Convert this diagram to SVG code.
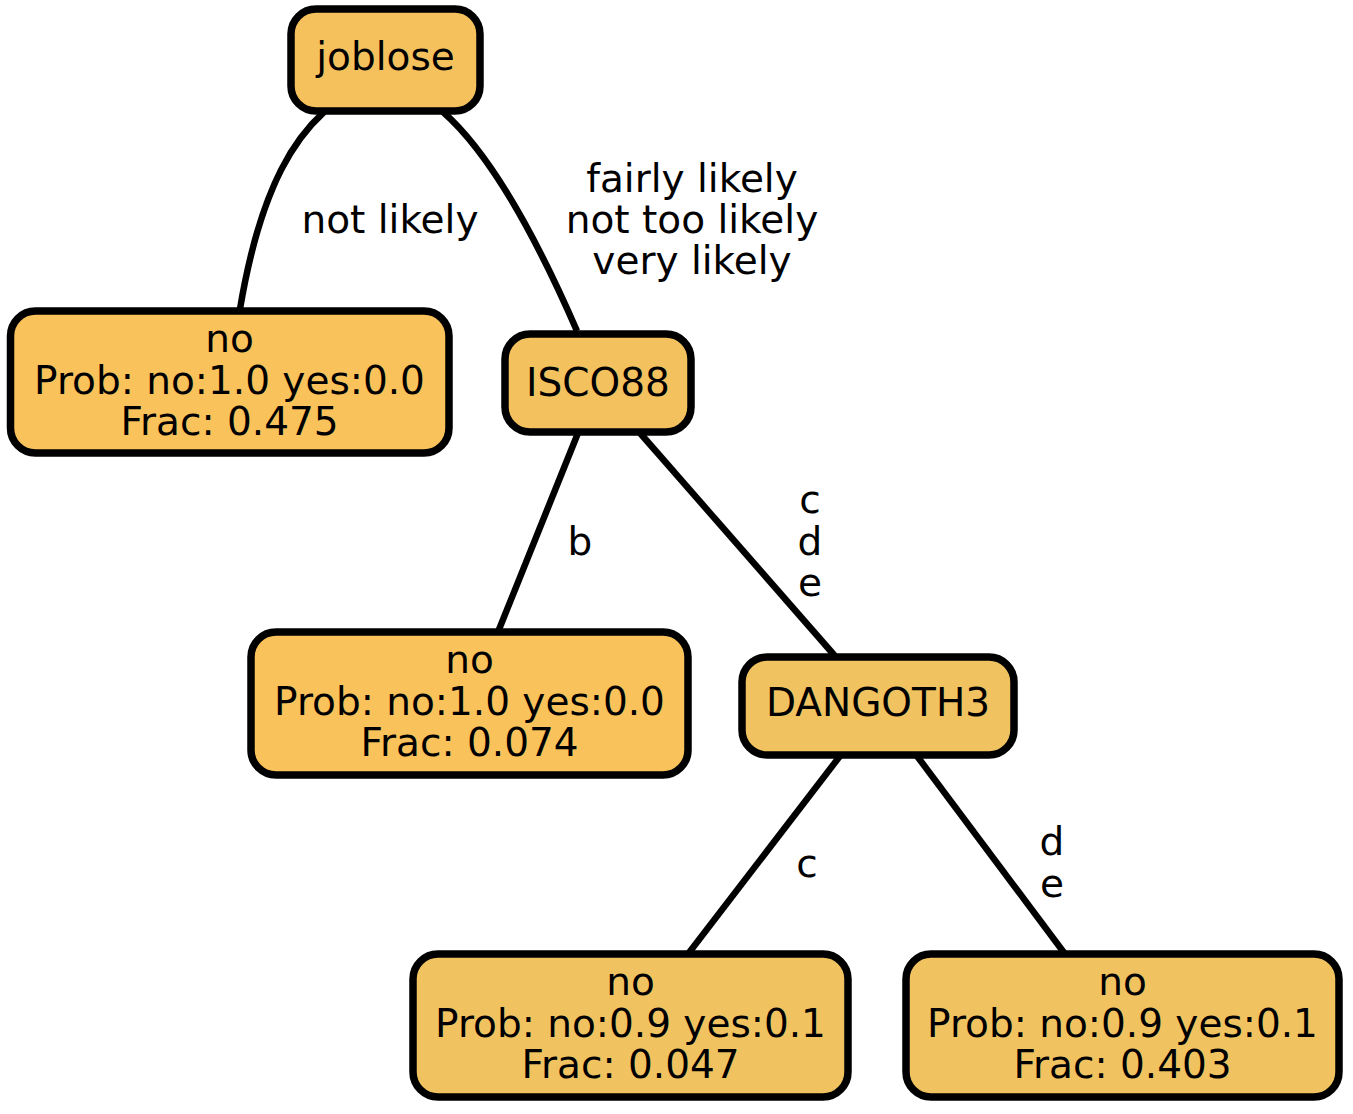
<svg xmlns="http://www.w3.org/2000/svg" width="1353" height="1114" viewBox="0 0 1353 1114">
<style>
.n{stroke:#000;stroke-width:7.5}
.e{fill:none;stroke:#000;stroke-width:6.5}
text{font-family:"DejaVu Sans","Liberation Sans",sans-serif;font-size:39px;fill:#000;text-anchor:middle}
</style>
<rect width="1353" height="1114" fill="#fff"/>
<g id="edges">
<path class="e" d="M324,112 C300,134 262,178 240,309"/>
<path class="e" d="M443,112 C475,140 520,200 577,331"/>
<path class="e" d="M578,433 L498,632"/>
<path class="e" d="M640,433 L835,656"/>
<path class="e" d="M840,756 L688,954"/>
<path class="e" d="M917,756 L1065,954"/>
<text x="390" y="233">not likely</text>
<text x="692" y="192">fairly likely</text>
<text x="692" y="233">not too likely</text>
<text x="692" y="274">very likely</text>
<text x="580" y="555">b</text>
<text x="810" y="513">c</text>
<text x="810" y="555">d</text>
<text x="810" y="596">e</text>
<text x="807" y="877">c</text>
<text x="1052" y="855">d</text>
<text x="1052" y="897">e</text>
</g>
<g id="joblose">
<rect class="n" x="291" y="9" width="189" height="102" rx="25" fill="#F5C15D"/>
<text x="385.5" y="70">joblose</text>
</g>
<g id="leaf1">
<rect class="n" x="10.5" y="311" width="438.5" height="142" rx="25" fill="#F9C25A"/>
<text x="229.5" y="352">no</text>
<text x="229.5" y="394">Prob: no:1.0 yes:0.0</text>
<text x="229.5" y="435">Frac: 0.475</text>
</g>
<g id="isco88">
<rect class="n" x="505" y="334" width="186" height="98" rx="25" fill="#F3C25F"/>
<text x="598" y="396">ISCO88</text>
</g>
<g id="leaf2">
<rect class="n" x="251" y="632" width="437" height="143" rx="25" fill="#F9C25A"/>
<text x="469.5" y="673">no</text>
<text x="469.5" y="715">Prob: no:1.0 yes:0.0</text>
<text x="469.5" y="756">Frac: 0.074</text>
</g>
<g id="dangoth3">
<rect class="n" x="742" y="657" width="272" height="98" rx="25" fill="#F1C360"/>
<text x="878" y="716">DANGOTH3</text>
</g>
<g id="leaf3">
<rect class="n" x="413" y="954" width="435" height="143" rx="25" fill="#F1C360"/>
<text x="630.5" y="995">no</text>
<text x="630.5" y="1037">Prob: no:0.9 yes:0.1</text>
<text x="630.5" y="1078">Frac: 0.047</text>
</g>
<g id="leaf4">
<rect class="n" x="906" y="954" width="433" height="143" rx="25" fill="#F1C360"/>
<text x="1122.5" y="995">no</text>
<text x="1122.5" y="1037">Prob: no:0.9 yes:0.1</text>
<text x="1122.5" y="1078">Frac: 0.403</text>
</g>
</svg>
